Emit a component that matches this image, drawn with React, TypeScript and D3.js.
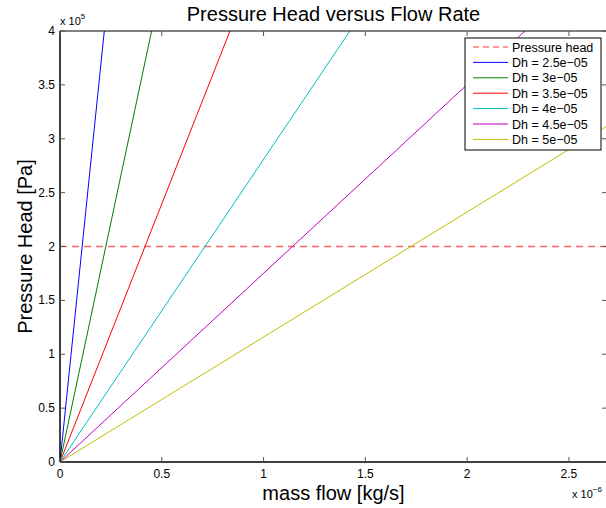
import React from "react";
import * as d3 from "d3";

const seriesNames = ["Dh = 2.5e-05", "Dh = 3e-05", "Dh = 3.5e-05", "Dh = 4e-05", "Dh = 4.5e-05", "Dh = 5e-05"];
const seriesColors = ["#0000ff", "#008000", "#ff0000", "#00bfbf", "#bf00bf", "#bfbf00"];
// mass flow [kg/s] at which each line reaches 4e5 Pa (lines start at origin)
const massFlowAtTop = [0.2176e-6, 0.450e-6, 0.835e-6, 1.424e-6, 2.284e-6, 3.448e-6];
const pressureTop = 4e5;
const pressureHead = 2e5;
const xTicks = [0, 0.5e-6, 1e-6, 1.5e-6, 2e-6, 2.5e-6];
const yTicks = [0, 0.5e5, 1e5, 1.5e5, 2e5, 2.5e5, 3e5, 3.5e5, 4e5];

const W = 606, H = 508;
const L = 60, R = 607, T = 31, B = 462;
const font = "'Liberation Sans', Arial, Helvetica, sans-serif";

export default function App() {
  const x = d3.scaleLinear().domain([0, 2.687e-6]).range([L, R]);
  const y = d3.scaleLinear().domain([0, 4e5]).range([B, T]);
  const line = d3.line<[number, number]>().x(d => x(d[0])).y(d => y(d[1]));
  const fmtX = (v: number) => d3.format("~g")(v / 1e-6);
  const fmtY = (v: number) => d3.format("~g")(v / 1e5);
  const legendRows = [{ name: "Pressure head", color: "#ff3333", dash: true }, ...seriesNames.map((n, i) => ({ name: n, color: seriesColors[i], dash: false }))];
  const lgX = 465, lgY = 38, lgW = 136, rowH = 15.4;
  return (
    <svg width={W} height={H} style={{ position: "absolute", left: 0, top: 0, background: "#fff" }} fontFamily={font}>
      <rect x={0} y={0} width={W} height={H} fill="#fff" />
      <defs>
        <clipPath id="plot"><rect x={L} y={T} width={R - L} height={B - T} /></clipPath>
      </defs>
      <g clipPath="url(#plot)">
        <path d={line([[0, pressureHead], [3e-6, pressureHead]])!} stroke="#ff3333" strokeOpacity={0.75} strokeWidth={1.5} strokeDasharray="7,5" fill="none" />
        {massFlowAtTop.map((m, i) => (
          <path key={i} d={line([[0, 0], [m, pressureTop]])!} stroke={seriesColors[i]} strokeWidth={1} fill="none" />
        ))}
      </g>
      {/* axes box */}
      <line x1={L} y1={T} x2={R} y2={T} stroke="#000" strokeWidth={1} />
      <line x1={L} y1={B} x2={R} y2={B} stroke="#000" strokeWidth={1.5} />
      <line x1={L} y1={T} x2={L} y2={B} stroke="#000" strokeWidth={1.5} />
      <line x1={R} y1={T} x2={R} y2={B} stroke="#000" strokeWidth={1} />
      {xTicks.map((t, i) => (
        <g key={i}>
          <line x1={x(t)} x2={x(t)} y1={B} y2={B - 5} stroke="#555" />
          <line x1={x(t)} x2={x(t)} y1={T} y2={T + 5} stroke="#555" />
          <text x={x(t)} y={B + 16} fontSize={12} textAnchor="middle" fill="#000">{fmtX(t)}</text>
        </g>
      ))}
      {yTicks.map((t, i) => (
        <g key={i}>
          <line x1={L} x2={L + 5} y1={y(t)} y2={y(t)} stroke="#555" />
          <line x1={R} x2={R - 5} y1={y(t)} y2={y(t)} stroke="#555" />
          <text x={L - 5} y={y(t) + 4} fontSize={12} textAnchor="end" fill="#000">{fmtY(t)}</text>
        </g>
      ))}
      <text x={60} y={25} fontSize={11} fill="#000">x 10<tspan dy={-6} fontSize={8}>5</tspan></text>
      <text x={572} y={498} fontSize={11} fill="#000">x 10<tspan dy={-6} fontSize={8}>−6</tspan></text>
      <text x={(L + R) / 2} y={21} fontSize={20} textAnchor="middle" fill="#000">Pressure Head versus Flow Rate</text>
      <text x={(L + R) / 2} y={500} fontSize={20} textAnchor="middle" fill="#000">mass flow [kg/s]</text>
      <text transform={`translate(32,${(T + B) / 2}) rotate(-90)`} fontSize={20} textAnchor="middle" fill="#000">Pressure Head [Pa]</text>
      {/* legend */}
      <rect x={lgX} y={lgY} width={lgW} height={112} fill="#fff" stroke="#000" strokeWidth={1} />
      {legendRows.map((r, i) => {
        const cy = lgY + 9 + i * rowH;
        return (
          <g key={i}>
            <line x1={473} x2={508} y1={cy} y2={cy} stroke={r.color} strokeWidth={1} strokeDasharray={r.dash ? "6,4" : undefined} />
            <text x={512} y={cy + 4.5} fontSize={12.5} fill="#000">{r.name.replace(/-/g, "\u2212")}</text>
          </g>
        );
      })}
    </svg>
  );
}
